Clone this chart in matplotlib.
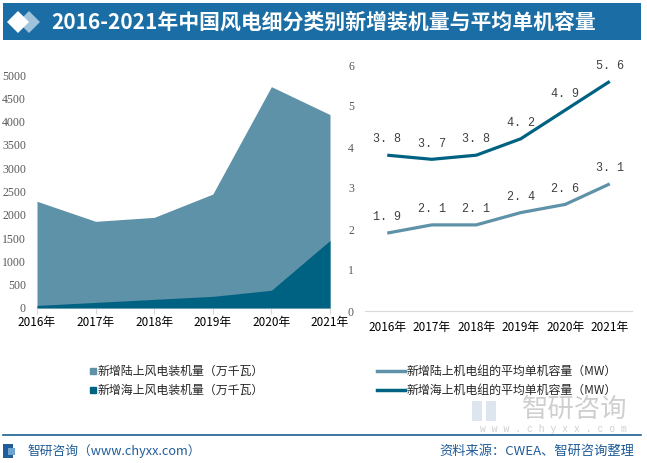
import matplotlib
matplotlib.use("Agg")
import matplotlib.pyplot as plt
from matplotlib.patches import Rectangle, Polygon
from matplotlib.lines import Line2D
import numpy as np

plt.rcParams['font.family'] = ['Noto Sans CJK SC', 'DejaVu Sans']

years = ["2016年", "2017年", "2018年", "2019年", "2020年", "2021年"]
land_new = [2290, 1860, 1945, 2445, 4750, 4150]
offshore_new = [55, 120, 185, 250, 380, 1450]
land_avg = [1.9, 2.1, 2.1, 2.4, 2.6, 3.1]
offshore_avg = [3.8, 3.7, 3.8, 4.2, 4.9, 5.6]
left_yticks = [0, 500, 1000, 1500, 2000, 2500, 3000, 3500, 4000, 4500, 5000]
right_yticks = [0, 1, 2, 3, 4, 5, 6]
title = "2016-2021年中国风电细分类别新增装机量与平均单机容量"
legend_labels = ["新增陆上风电装机量（万千瓦）", "新增海上风电装机量（万千瓦）",
                 "新增陆上机电组的平均单机容量（MW）", "新增海上机电组的平均单机容量（MW）"]

W, H = 647, 463
fig = plt.figure(figsize=(W / 100, H / 100), dpi=100)
fig.patch.set_facecolor("white")

def fx(px):
    return px / W

def fy(py):
    return 1 - py / H

c_land = "#5e92a8"
c_off = "#006283"

# ---------- watermark (bottom right) ----------
fig.text(fx(627), fy(409), "智研咨询", color="#cfcfcf", fontsize=19, ha="right", va="center")
fig.text(fx(627), fy(428.5), "w w w . c h y x x . c o m", color="#cfcfcf", fontsize=7,
         ha="right", va="center", family=["Liberation Mono", "DejaVu Sans Mono"])
fig.patches.append(Rectangle((fx(472), fy(421)), fx(10), fy(401) - fy(421), transform=fig.transFigure,
                             facecolor="#dde6ee", edgecolor="none"))
fig.patches.append(Rectangle((fx(486), fy(421)), fx(10), fy(401) - fy(421), transform=fig.transFigure,
                             facecolor="#dde6ee", edgecolor="none"))

# ---------- left area chart ----------
axL = fig.add_axes([fx(37), fy(308), fx(330) - fx(37), fy(75) - fy(308)])
x = np.arange(len(years))
axL.fill_between(x, 0, land_new, color=c_land, linewidth=0, zorder=2)
axL.fill_between(x, 0, offshore_new, color=c_off, linewidth=0, zorder=3)
axL.set_xlim(0, len(years) - 1)
axL.set_ylim(0, 5000)
axL.set_yticks(left_yticks)
axL.set_yticklabels([str(v) for v in left_yticks], color="#595959", fontsize=8.5,
                    family=["Liberation Serif", "DejaVu Serif"])
axL.set_xticks(x)
axL.set_xticklabels(years, fontsize=8.5, color="#000000")
for s in ["top", "right", "left"]:
    axL.spines[s].set_visible(False)
axL.spines["bottom"].set_color("#d9d9d9")
axL.tick_params(axis="y", length=0, pad=8)
axL.tick_params(axis="x", length=4, color="#d9d9d9", pad=2)
axL.patch.set_alpha(0)

# ---------- right line chart ----------
axR = fig.add_axes([fx(365), fy(311), fx(632) - fx(365), fy(65) - fy(311)])
axR.plot(x, land_avg, color=c_land, linewidth=2.3, solid_capstyle="butt", zorder=3)
axR.plot(x, offshore_avg, color=c_off, linewidth=2.3, solid_capstyle="butt", zorder=3)
for series in (land_avg, offshore_avg):
    for xi, v in zip(x, series):
        axR.annotate(f"{v:.1f}".replace(".", ". "), (xi, v), xytext=(0, 7),
                     textcoords="offset points", ha="center", va="bottom", fontsize=8.5,
                     color="#404040", family=["Liberation Mono", "DejaVu Sans Mono"])
axR.set_xlim(-0.5, len(years) - 0.5)
axR.set_ylim(0, 6)
axR.set_yticks(right_yticks)
axR.set_yticklabels([str(v) for v in right_yticks], color="#595959", fontsize=8.5,
                    family=["Liberation Serif", "DejaVu Serif"])
axR.set_xticks(x)
axR.set_xticklabels(years, fontsize=8.5, color="#000000")
for s in ["top", "right", "left"]:
    axR.spines[s].set_visible(False)
axR.spines["bottom"].set_color("#d9d9d9")
axR.tick_params(axis="y", length=0, pad=8)
axR.tick_params(axis="x", length=0, pad=7)
axR.patch.set_alpha(0)

# ---------- legends ----------
h1 = [Line2D([], [], marker="s", linestyle="none", color=c_land, markersize=4.5),
      Line2D([], [], marker="s", linestyle="none", color=c_off, markersize=4.5)]
fig.legend(h1, legend_labels[:2], loc="center left", bbox_to_anchor=(fx(89), fy(381)),
           frameon=False, fontsize=8.6, handlelength=0.6, handletextpad=0.1,
           labelspacing=0.55, borderpad=0, borderaxespad=0, labelcolor="#262626")
h2 = [Line2D([], [], color=c_land, linewidth=2.5),
      Line2D([], [], color=c_off, linewidth=2.5)]
fig.legend(h2, legend_labels[2:], loc="center left", bbox_to_anchor=(fx(377), fy(381)),
           frameon=False, fontsize=8.6, handlelength=2.35, handletextpad=0.1,
           labelspacing=0.55, borderpad=0, borderaxespad=0, labelcolor="#262626")

# ---------- banner ----------
fig.patches.append(Rectangle((fx(3), fy(40)), fx(641) - fx(3), fy(3) - fy(40),
                             transform=fig.transFigure, facecolor="#1a6ea5", edgecolor="none"))
def diamond(cx, cy, r, color):
    pts = [(fx(cx - r), fy(cy)), (fx(cx), fy(cy - r)), (fx(cx + r), fy(cy)), (fx(cx), fy(cy + r))]
    fig.patches.append(Polygon(pts, closed=True, transform=fig.transFigure,
                               facecolor=color, edgecolor="none"))
diamond(29, 22, 11, "#9fc3da")
diamond(18, 22, 11, "#ffffff")
fig.text(fx(51), fy(22), title, color="white", fontsize=15, fontweight="bold",
         ha="left", va="center")

# ---------- footer ----------
fig.lines.append(Line2D([fx(3), fx(641)], [fy(435), fy(435)], transform=fig.transFigure,
                        color="#1a5f8f", linewidth=1.2))
fig.patches.append(Rectangle((fx(3), fy(458)), fx(10), fy(444) - fy(458), transform=fig.transFigure,
                             facecolor="#1f5c99", edgecolor="none"))
fig.patches.append(Rectangle((fx(8), fy(455)), fx(7), fy(448) - fy(455), transform=fig.transFigure,
                             facecolor="#6fa3d0", edgecolor="none"))
fig.text(fx(27), fy(451), "智研咨询（www.chyxx.com）", color="#1f5c99", fontsize=9.2,
         ha="left", va="center")
fig.text(fx(634), fy(451), "资料来源：CWEA、智研咨询整理", color="#1f5c99", fontsize=9.5,
         ha="right", va="center")

fig.savefig("out.png", dpi=100, facecolor="white")
